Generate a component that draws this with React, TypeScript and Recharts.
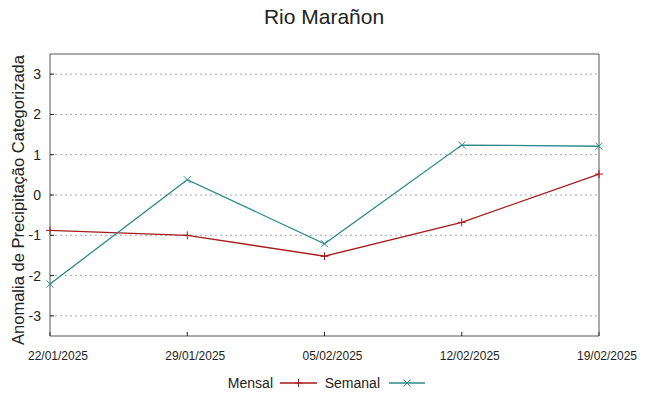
import React from 'react';
import { LineChart, Line, XAxis, YAxis, CartesianGrid } from 'recharts';

const dates = ['22/01/2025', '29/01/2025', '05/02/2025', '12/02/2025', '19/02/2025'];
const mensal = [-0.88, -1.0, -1.52, -0.68, 0.52];
const semanal = [-2.21, 0.38, -1.21, 1.24, 1.21];
const yTicks = [-3, -2, -1, 0, 1, 2, 3];

const data = dates.map((d, i) => ({ date: d, mensal: mensal[i], semanal: semanal[i] }));

const MENSAL_COLOR = '#a51c1c';
const SEMANAL_COLOR = '#2a8a8a';
const FONT = '"Liberation Sans", Arial, sans-serif';

const PlusDot = (props: any) => {
  const { cx, cy } = props;
  if (cx == null || cy == null) return null;
  return (
    <g>
      <line x1={cx - 4} x2={cx + 4} y1={cy} y2={cy} stroke={MENSAL_COLOR} strokeWidth={1} />
      <line x1={cx} x2={cx} y1={cy - 4} y2={cy + 4} stroke={MENSAL_COLOR} strokeWidth={1} />
    </g>
  );
};

const CrossDot = (props: any) => {
  const { cx, cy } = props;
  if (cx == null || cy == null) return null;
  return (
    <g>
      <line x1={cx - 3.5} x2={cx + 3.5} y1={cy - 3.5} y2={cy + 3.5} stroke={SEMANAL_COLOR} strokeWidth={1} />
      <line x1={cx - 3.5} x2={cx + 3.5} y1={cy + 3.5} y2={cy - 3.5} stroke={SEMANAL_COLOR} strokeWidth={1} />
    </g>
  );
};

export default function App() {
  return (
    <div style={{ position: 'absolute', left: 0, top: 0, width: 648, height: 396, fontFamily: FONT, background: '#fff' }}>
      <div style={{ position: 'absolute', left: 0, top: 5, width: 648, textAlign: 'center', fontSize: 21, color: '#222' }}>
        Rio Marañon
      </div>
      <div
        style={{
          position: 'absolute',
          left: 18,
          top: 200,
          transform: 'translate(-50%, -50%) rotate(-90deg)',
          whiteSpace: 'nowrap',
          fontSize: 16.5,
          color: '#222',
        }}
      >
        Anomalia de Precipitação Categorizada
      </div>
      <LineChart
        width={648}
        height={396}
        data={data}
        margin={{ top: 53, right: 48, bottom: 59, left: 49 }}
        style={{ position: 'absolute', left: 0, top: 0 }}
      >
        <CartesianGrid vertical={false} horizontalValues={yTicks} stroke="#a8a8a8" strokeDasharray="2 3" />
        <XAxis
          dataKey="date"
          height={1}
          tickSize={-4}
          tickMargin={19}
          interval={0}
          axisLine={{ stroke: '#555' }}
          tickLine={{ stroke: '#222' }}
          tick={{ fill: '#222', fontSize: 12, fontFamily: FONT, dx: 8 }}
        />
        <XAxis
          xAxisId="top"
          dataKey="date"
          orientation="top"
          height={1}
          tickSize={-4}
          interval={0}
          tick={false}
          axisLine={{ stroke: '#555' }}
          tickLine={{ stroke: '#222' }}
        />
        <YAxis
          type="number"
          domain={[-3.5, 3.5]}
          ticks={yTicks}
          width={1}
          tickSize={-4}
          tickMargin={13}
          interval={0}
          axisLine={{ stroke: '#555' }}
          tickLine={{ stroke: '#222' }}
          tick={{ fill: '#222', fontSize: 14, fontFamily: FONT }}
        />
        <YAxis
          yAxisId="right"
          orientation="right"
          type="number"
          domain={[-3.5, 3.5]}
          ticks={yTicks}
          width={1}
          tickSize={-4}
          interval={0}
          tick={false}
          axisLine={{ stroke: '#555' }}
          tickLine={{ stroke: '#222' }}
        />
        <Line
          dataKey="mensal"
          stroke={MENSAL_COLOR}
          strokeWidth={1.3}
          dot={<PlusDot />}
          activeDot={false}
          isAnimationActive={false}
        />
        <Line
          dataKey="semanal"
          stroke={SEMANAL_COLOR}
          strokeWidth={1.3}
          dot={<CrossDot />}
          activeDot={false}
          isAnimationActive={false}
        />
      </LineChart>
      <svg width={648} height={30} style={{ position: 'absolute', left: 0, top: 368 }}>
        <text x={273} y={20} textAnchor="end" fontSize={14} fill="#222" fontFamily={FONT}>Mensal</text>
        <line x1={280} x2={317} y1={15} y2={15} stroke={MENSAL_COLOR} strokeWidth={1.3} />
        <PlusDot cx={298.5} cy={15} />
        <text x={380} y={20} textAnchor="end" fontSize={14} fill="#222" fontFamily={FONT}>Semanal</text>
        <line x1={389} x2={425} y1={15} y2={15} stroke={SEMANAL_COLOR} strokeWidth={1.3} />
        <CrossDot cx={407} cy={15} />
      </svg>
    </div>
  );
}
